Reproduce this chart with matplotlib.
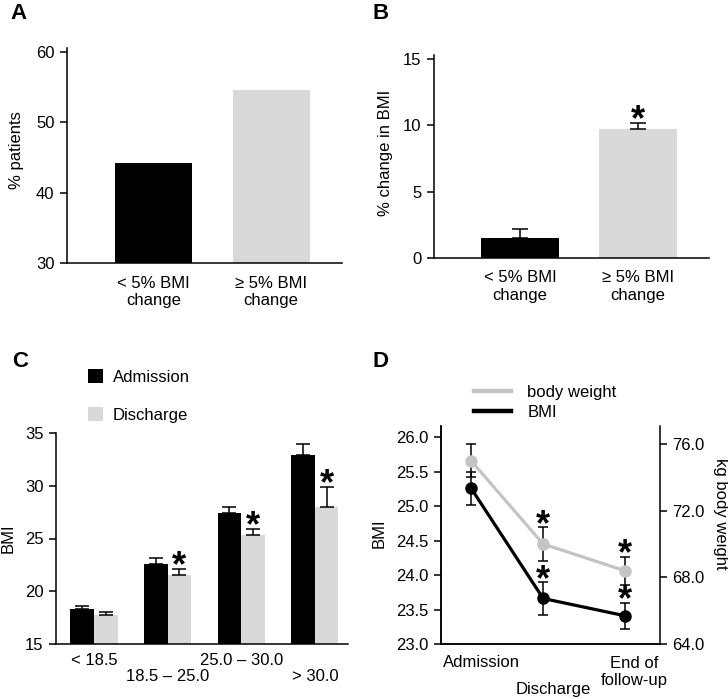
import numpy as np
import matplotlib
matplotlib.use('Agg')
import matplotlib.pyplot as plt
from matplotlib.patches import Patch
from matplotlib.lines import Line2D

plt.rcParams['font.family'] = ['Liberation Sans', 'DejaVu Sans']
plt.rcParams['font.size'] = 12

# ---------- datos ----------
# A: % pacientes
a_groups = ['< 5% BMI\nchange', '≥ 5% BMI\nchange']
a_values = [44.2, 54.6]

# B: % cambio en BMI
b_groups = ['< 5% BMI\nchange', '≥ 5% BMI\nchange']
b_values = [1.5, 9.7]
b_err = [0.65, 0.45]
b_sig = [False, True]

# C: BMI por categoría
c_groups = ['< 18.5', '18.5 – 25.0', '25.0 – 30.0', '> 30.0']
c_admission = [18.3, 22.6, 27.45, 32.9]
c_admission_err = [0.3, 0.55, 0.55, 1.05]
c_discharge = [17.75, 21.55, 25.35, 27.95]
c_discharge_err = [0.27, 0.57, 0.52, 1.9]
c_sig = [False, True, True, True]

# D: evolución BMI y peso
d_visits = ['Admission', 'Discharge', 'End of\nfollow-up']
d_pos = [0, 1, 2.13]
d_bmi = [25.26, 23.66, 23.41]
d_bmi_err = [0.24, 0.24, 0.19]
d_weight = [75.0, 70.0, 68.4]
d_weight_err = [1.0, 1.0, 0.85]
d_sig = [False, True, True]

BLACK = '#000000'
GREY = '#d9d9d9'
LGREY = '#c4c4c4'

W, H = 728, 699
fig = plt.figure(figsize=(W / 100, H / 100), dpi=100)


def px_axes(x0, y0, x1, y1):
    return fig.add_axes([x0 / W, 1 - y1 / H, (x1 - x0) / W, (y1 - y0) / H])


def style(ax, right=False):
    ax.spines['top'].set_visible(False)
    if not right:
        ax.spines['right'].set_visible(False)
    for s in ax.spines.values():
        s.set_linewidth(1.1)
    ax.tick_params(axis='y', direction='out', length=5, width=1.1, pad=4, labelsize=12)


def star(ax, x, y, dy=-7):
    ax.annotate('*', xy=(x, y), xytext=(0, dy), textcoords='offset pixels',
                ha='center', va='baseline', fontsize=26, fontweight='bold')


# ---------- A ----------
ax = px_axes(67, 48, 342, 263)
style(ax)
xa = np.arange(len(a_values))
ax.bar(xa, a_values, width=0.655, color=[BLACK, GREY], bottom=0)
ax.set_ylim(30, 60.6)
ax.set_xlim(-0.736, 1.604)
ax.set_yticks([30, 40, 50, 60])
ax.set_xticks(xa)
ax.set_xticklabels(a_groups)
ax.tick_params(axis='x', length=0, pad=9, labelsize=12)
ax.set_ylabel('% patients', fontsize=12, va='center')
ax.yaxis.set_label_coords(-0.182, 0.526)

# ---------- B ----------
ax = px_axes(434, 55, 709, 258)
style(ax)
xb = np.arange(len(b_values))
ax.bar(xb, b_values, width=0.66, color=[BLACK, GREY])
ax.errorbar(xb, b_values, yerr=[np.zeros(len(b_err)), b_err], fmt='none',
            ecolor=BLACK, elinewidth=1.1, capsize=6, capthick=1.1)
for i, s in enumerate(b_sig):
    if s:
        star(ax, xb[i], b_values[i] + b_err[i])
ax.set_ylim(0, 15.3)
ax.set_xlim(-0.729, 1.60)
ax.set_yticks([0, 5, 10, 15])
ax.set_xticks(xb)
ax.set_xticklabels(b_groups)
ax.tick_params(axis='x', length=0, pad=9, labelsize=12)
ax.set_ylabel('% change in BMI', fontsize=12, va='center')
ax.yaxis.set_label_coords(-0.175, 0.52)

# ---------- C ----------
ax = px_axes(56, 433, 348, 644)
style(ax)
xc = np.arange(len(c_groups))
bw = 0.32
ax.bar(xc - bw / 2, np.array(c_admission) - 15, bottom=15, width=bw, color=BLACK)
ax.bar(xc + bw / 2, np.array(c_discharge) - 15, bottom=15, width=bw, color=GREY)
ax.errorbar(xc - bw / 2, c_admission, yerr=[np.zeros(4), c_admission_err], fmt='none',
            ecolor=BLACK, elinewidth=1.1, capsize=4.7, capthick=1.1)
ax.errorbar(xc + bw / 2, c_discharge, yerr=[np.zeros(4), c_discharge_err], fmt='none',
            ecolor=BLACK, elinewidth=1.1, capsize=4.7, capthick=1.1)
for i, s in enumerate(c_sig):
    if s:
        star(ax, xc[i] + bw / 2, c_discharge[i] + c_discharge_err[i])
ax.set_ylim(15, 35)
ax.set_xlim(-0.516, 3.45)
ax.set_yticks([15, 20, 25, 30, 35])
ax.set_xticks([])
for i, lab in enumerate(c_groups):
    yrow = -0.076 if i % 2 == 0 else -0.156
    ax.text(xc[i], yrow, lab, transform=ax.get_xaxis_transform(),
            ha='center', va='center', fontsize=12)
ax.set_ylabel('BMI', fontsize=12, va='center')
ax.yaxis.set_label_coords(-0.165, 0.5)
handles = [Patch(facecolor=BLACK, edgecolor='none', label='Admission'),
           Patch(facecolor=GREY, edgecolor='none', label='Discharge')]
fig.legend(handles=handles, loc='upper left', bbox_to_anchor=(88 / W, 1 - 369 / H),
           frameon=False, borderpad=0, borderaxespad=0, handlelength=0.9,
           handleheight=0.9, handletextpad=0.6, labelspacing=1.35, fontsize=12)

# ---------- D ----------
ax = px_axes(440.7, 426, 660, 644)
style(ax)
ax2 = ax.twinx()
ax2.spines['top'].set_visible(False)
for s in ax2.spines.values():
    s.set_linewidth(1.1)
ax2.tick_params(axis='y', direction='out', length=5, width=1.1, pad=4, labelsize=12)

ax.errorbar(d_pos, d_bmi, yerr=d_bmi_err, fmt='none', ecolor=BLACK,
            elinewidth=1.1, capsize=3.5, capthick=1.1, zorder=1)
ax.plot(d_pos, d_bmi, '-o', color=BLACK, lw=2.3, markersize=8, zorder=2)
ax2.errorbar(d_pos, d_weight, yerr=d_weight_err, fmt='none', ecolor=BLACK,
             elinewidth=1.1, capsize=3.5, capthick=1.1, zorder=1)
ax2.plot(d_pos, d_weight, '-o', color=LGREY, lw=2.3, markersize=8, zorder=2)
for i, s in enumerate(d_sig):
    if s:
        star(ax, d_pos[i], d_bmi[i] + d_bmi_err[i], dy=-8)
        star(ax2, d_pos[i], d_weight[i] + d_weight_err[i], dy=-8)

ax.set_ylim(23, 26.16)
ax2.set_ylim(64, 77.08)
ax.set_xlim(-0.42, 2.62)
ax.set_yticks(np.arange(23, 26.01, 0.5))
ax.set_yticklabels([f'{v:.1f}' for v in np.arange(23, 26.01, 0.5)])
ax2.set_yticks([64, 68, 72, 76])
ax2.set_yticklabels([f'{v:.1f}' for v in [64, 68, 72, 76]])
ax.set_xticks([])
label_rows = [-0.083, -0.211, -0.128]
for i, lab in enumerate(d_visits):
    ax.annotate(lab, xy=(d_pos[i], label_rows[i]), xycoords=('data', 'axes fraction'),
                xytext=(10, 0), textcoords='offset pixels', ha='center', va='center',
                fontsize=12)
ax.set_ylabel('BMI', fontsize=12, va='center')
ax.yaxis.set_label_coords(-0.281, 0.51)
ax2.set_ylabel('kg body weight', fontsize=12, rotation=270, va='center')
ax2.yaxis.set_label_coords(1.278, 0.596)

d_handles = [Line2D([0], [0], color=LGREY, lw=3.2, label='body weight'),
             Line2D([0], [0], color=BLACK, lw=3.2, label='BMI')]
fig.legend(handles=d_handles, loc='upper left', bbox_to_anchor=(474 / W, 1 - 385 / H),
           frameon=False, borderpad=0, borderaxespad=0, handlelength=2.2,
           handletextpad=1.0, labelspacing=0.3, fontsize=12)

# ---------- letras de panel ----------
for lab, (x, y) in zip('ABCD', [(10, 3), (372, 3), (12, 351), (372, 351)]):
    fig.text(x / W, 1 - y / H, lab, fontsize=16, fontweight='bold', ha='left', va='top')

fig.savefig('out.png', dpi=100)
